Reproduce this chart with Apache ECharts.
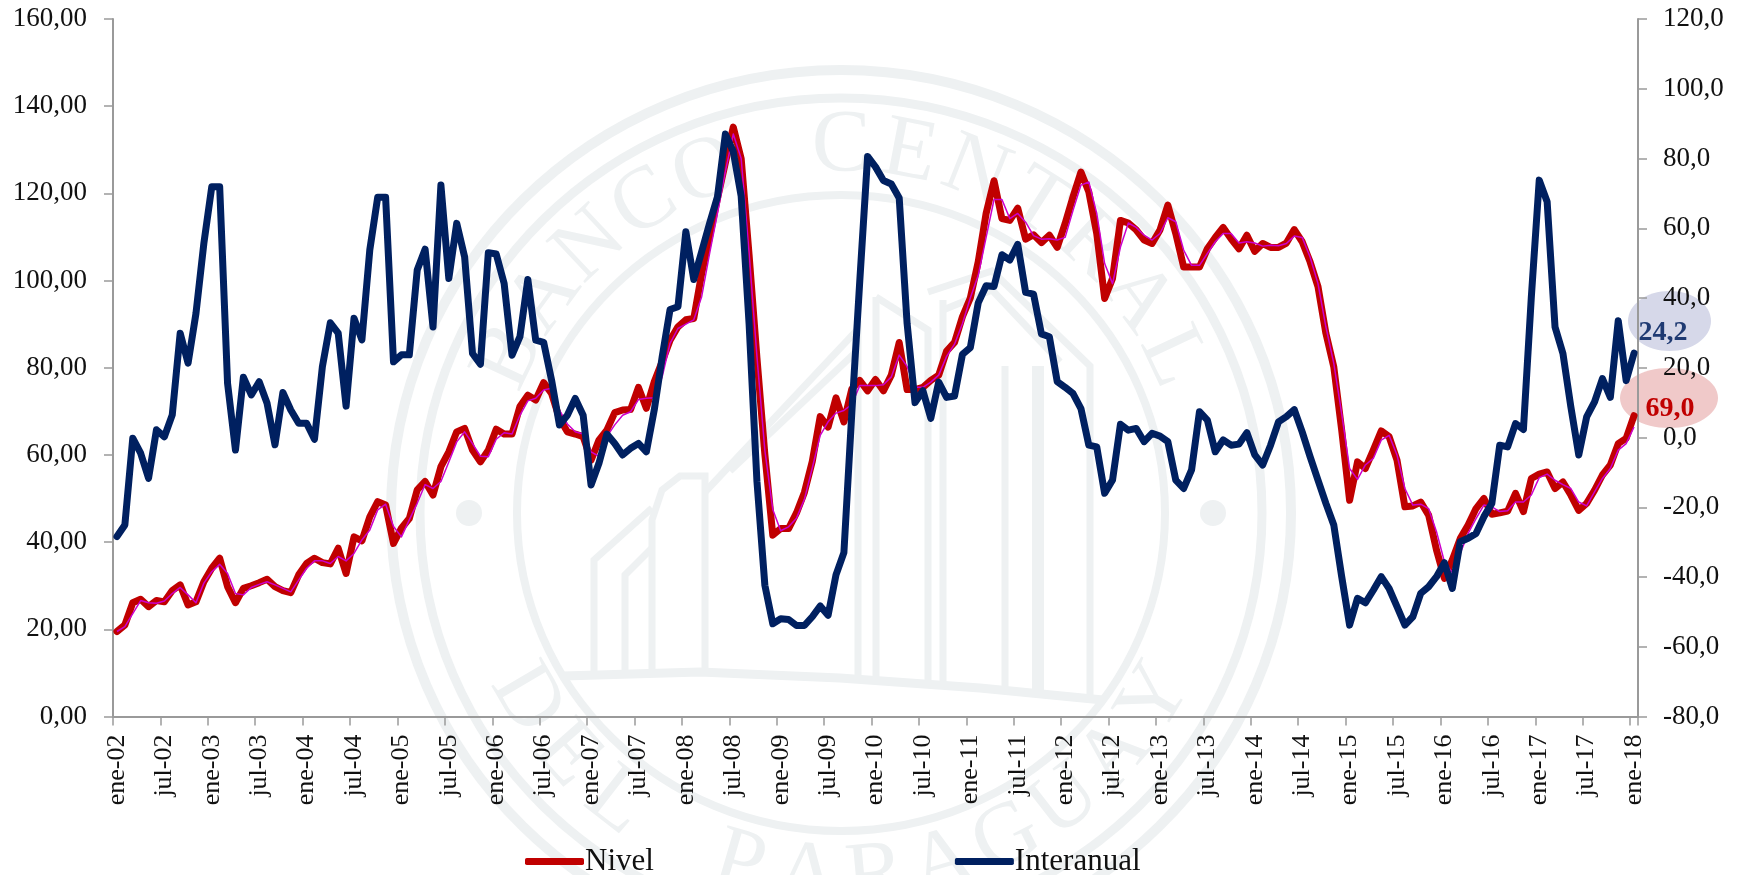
<!DOCTYPE html>
<html>
<head>
<meta charset="utf-8">
<style>html,body{margin:0;padding:0;background:#fff}#c{width:1745px;height:875px}</style>
<script src="https://cdn.jsdelivr.net/npm/echarts@6/dist/echarts.min.js"></script>
</head>
<body>
<div id="c"></div>
<script>
const monthNames = ['ene','feb','mar','abr','may','jun','jul','ago','sep','oct','nov','dic'];
const firstYear = 2002;
const monthCount = 193;

const nivel = [
19.5,21,26.1,26.9,25.2,26.6,26.3,28.9,30.2,25.6,26.3,30.9,34,36.3,29.8,26.1,29.4,30,30.7,31.5,29.8,28.9,28.4,32.5,35.1,36.3,35.3,35,38.6,32.8,41.2,40.3,45.8,49.3,48.5,39.7,43.2,45.4,52,53.9,
50.8,57.3,60.7,65.3,66.1,61.1,58.4,61.1,65.9,64.8,64.8,71.1,73.7,72.6,76.6,74.1,68.4,65.3,64.8,64.2,58.8,63.4,65.7,69.7,70.3,70.4,75.5,70.7,76.8,81.4,86.3,89.4,91,91.3,101.6,110,118.8,127,
135.2,128,105.9,82.2,60.1,41.6,43.1,43.1,46.7,51.4,58.5,68.8,66.4,73.1,67.6,75.1,77.1,74.7,77.3,74.7,78.3,85.8,75,75,75.5,77.1,78.3,83.8,85.8,91.7,96,104.3,115.4,122.9,114.2,113.8,116.6,109.5,110.5,108.7,
110.4,107.6,113.1,119.2,124.9,120.3,110.8,95.9,100.5,113.8,113.2,111.6,109.3,108.5,111.6,117.3,110.8,103.1,103.1,103.1,107.3,109.9,112.2,109.6,107.3,110.4,106.7,108.5,107.6,107.6,108.6,111.7,108.9,104.3,98.6,87.9,80.2,65.7,49.6,
58.4,56.9,61.1,65.5,64.2,58.8,48.1,48.3,49.2,46.2,38.2,31.7,35.9,40.8,43.9,47.7,50,46.4,46.7,47.1,51.2,47,54.6,55.6,56.1,52.3,53.8,50.8,47.3,48.9,51.9,55.4,57.7,62.6,63.8,69
];

const nivelFino = [
19.5,20.6,23.6,26.6,26.1,26,26.5,28.2,29.6,27.9,26.1,30.6,33.2,34.9,32.8,28.2,27.9,29.6,30.3,30.9,30.2,29.4,28.6,31.3,34,35.7,35.7,35.1,36.7,35.7,37.4,40.5,42.8,47.4,48.7,43.6,41.2,45.1,48.9,53.2,
52.3,53.9,58.4,63,65.3,62.6,59.7,59.6,63.6,65.1,64.8,69.1,72.4,73,74.9,75.3,70.3,67.1,65.3,64.8,60.7,59.7,64.2,66.9,69.1,69.9,72.7,73,73.1,77.9,85.6,89,90,91,96.3,106.2,115.4,
125,133.6,128,106.5,82.5,61,47.5,42.6,43.5,45.5,49.8,57,64.5,67.6,69.6,70.2,71.6,75.9,75.9,75.9,76.1,77.9,82.9,80.3,75.5,75.5,76.7,78.3,82.6,85.4,90.1,96,101.2,109.9,118.6,118.6,114.2,115.4,113.4,110.3,109.5,
109.6,109.3,109.9,116.1,121.9,122.6,115.4,103.9,99.3,107.7,113.2,112.2,110.4,109.3,110.8,114.4,113.5,107,103.5,103.5,106.2,108.9,110.8,110.8,108.6,108.9,108.6,107.9,108.1,108,108.5,110.2,109.9,105.4,99.3,89.4,81,69.5,
56.9,54.4,57.7,59.2,63.4,64.5,60,52.3,48.5,48.7,47.7,42.4,35.5,33,37.4,42,45.4,48.5,48.1,47,47.2,49.2,49.2,50.8,54.8,55.6,54.2,53.2,52.3,49.2,48.3,51.5,54.6,56.9,61.1,62.6,66.4
];

const interanual = [
-28.4,-25.1,-0.2,-4.5,-11.7,2.2,0.2,6.5,29.9,21.3,35.6,55.7,71.9,71.9,15.5,-3.6,17.3,12.2,16,9.8,-2.1,12.9,7.9,4.1,4.1,-0.5,20.3,32.9,29.9,9,34.2,28,53.8,68.9,68.9,21.7,23.7,23.7,48,54,
31.7,72.4,45.6,61.4,51.8,24.1,21,53,52.6,44.2,23.6,28.9,45.3,27.9,27.3,16.5,3.6,6.4,11.2,6.4,-13.6,-7.4,1,-1.7,-5,-3.1,-1.7,-4.1,7.9,23.1,36.7,37.5,59,45.3,53.3,61.4,
69,87,82,69.2,32.7,-12.7,-42.4,-53.4,-52,-52.2,-53.9,-53.9,-51.4,-48.3,-51,-39.4,-33,7,44.5,80.6,77.6,73.7,72.7,68.7,32.7,10,13.4,5.5,15.9,11.5,11.9,23.8,25.8,38.6,43.5,43.3,52.4,50.9,55.4,41.6,41.1,29.7,
28.9,16,14.4,12.6,8.3,-2.2,-2.7,-16,-12.2,3.8,2.1,2.6,-1.2,1.2,0.4,-1.2,-12.2,-14.6,-9.3,7.4,5,-4.1,-0.7,-2.2,-1.9,1.4,-5,-7.9,-2.2,4.5,6,8,1.6,-5.5,-12.2,-18.9,-25.1,-39.9,-53.8,
-46.1,-47.4,-43.8,-39.9,-43.3,-48.5,-53.8,-51.4,-44.7,-42.8,-39.9,-35.9,-43.3,-29.9,-28.9,-27.5,-22.7,-18.9,-2.2,-2.7,4,2.3,40.3,73.8,67.6,31.7,24.1,8.8,-5,5.9,10.2,16.9,11.5,33.5,16.3,24.2
];

const legendNames = ['Nivel','Interanual'];
const endLabels = ['24,2','69,0'];
const sealTop = 'BANCO CENTRAL';
const sealBottom = 'DEL PARAGUAY';

const categories = [];
for (let i = 0; i < monthCount; i++) {
  const y = firstYear + Math.floor(i / 12);
  categories.push(monthNames[i % 12] + '-' + String(y).slice(2));
}

const FONT = '"Liberation Serif", serif';
const GREY = '#9a9a9a';
const WM = '#eef1f2';
const cx = 841, cy = 513;

const graphics = [];
function ring(rx, ry, w) {
  graphics.push({type:'ellipse', silent:true, z:-5, shape:{cx, cy, rx, ry}, style:{fill:'transparent', stroke:WM, lineWidth:w}});
}
ring(450, 443, 10); ring(421, 415, 9); ring(324, 318, 8);
[[-372,0],[372,0]].forEach(d => graphics.push({type:'circle', silent:true, z:-5, shape:{cx:cx+d[0], cy:cy+d[1], r:13}, style:{fill:WM}}));
function poly(pts, w) {
  graphics.push({type:'polyline', silent:true, z:-5, shape:{points:pts}, style:{fill:'transparent', stroke:WM, lineWidth:w||7}});
}
poly([[563,676],[700,672],[840,678],[980,688],[1103,700]], 9);
poly([[594,671],[594,560],[652,508]]);
poly([[625,671],[625,575],[652,548]]);
poly([[652,671],[652,520],[662,490],[680,476],[705,476],[705,671]]);
poly([[705,492],[858,329],[858,676]]);
poly([[730,471],[858,350]]);
poly([[876,297],[876,678]]);
poly([[876,297],[928,330],[928,680]]);
poly([[943,300],[943,682]]);
poly([[928,292],[992,271],[1090,366],[1090,697]]);
poly([[943,310],[992,290],[1060,362]]);
poly([[1005,366],[1005,687]]);
poly([[1038,366],[1038,690]], 12);
const stepDeg = 10.8, letterR = 366;
[...sealTop].forEach((ch, i) => {
  const th = (-(sealTop.length - 1) / 2 + i) * stepDeg * Math.PI / 180;
  graphics.push({type:'text', silent:true, z:-5, x:cx + letterR * Math.sin(th), y:cy - letterR * Math.cos(th), rotation:-th,
    style:{text:ch, fill:WM, font:'88px ' + FONT, align:'center', verticalAlign:'middle'}});
});
[...sealBottom].forEach((ch, i) => {
  const ph = (-(sealBottom.length - 1) / 2 + i) * stepDeg * Math.PI / 180;
  graphics.push({type:'text', silent:true, z:-5, x:cx + letterR * Math.sin(ph), y:cy + letterR * Math.cos(ph), rotation:ph,
    style:{text:ch, fill:WM, font:'88px ' + FONT, align:'center', verticalAlign:'middle'}});
});
graphics.push({type:'ellipse', silent:true, z:-1, shape:{cx:1669.5, cy:321, rx:41.5, ry:30}, style:{fill:'#d6d8e9'}});
graphics.push({type:'ellipse', silent:true, z:-1, shape:{cx:1669, cy:398, rx:49, ry:30}, style:{fill:'#f0c9c9'}});
graphics.push({type:'text', silent:true, z:20, x:1663, y:333, style:{text:endLabels[0], fill:'#1f3a72', font:'bold 28px ' + FONT, align:'center', verticalAlign:'middle'}});
graphics.push({type:'text', silent:true, z:20, x:1670, y:409, style:{text:endLabels[1], fill:'#c00000', font:'bold 28px ' + FONT, align:'center', verticalAlign:'middle'}});

const axisText = {color:'#111', fontFamily:FONT, fontSize:27};
const option = {
  animation:false,
  backgroundColor:'#fff',
  grid:{left:113, right:107, top:19, bottom:158.5, containLabel:false},
  legend:{
    data:legendNames.map(n => ({name:n, icon:'roundRect'})),
    left:520, top:841, orient:'horizontal', itemWidth:59, itemHeight:7, itemGap:301,
    textStyle:{color:'#111', fontFamily:FONT, fontSize:31, padding:[0,0,0,-4]},
    selectedMode:false
  },
  xAxis:{
    type:'category', data:categories, boundaryGap:true,
    axisLine:{lineStyle:{color:GREY, width:2}},
    axisTick:{show:true, interval:5, length:9, lineStyle:{color:GREY, width:1.5}},
    axisLabel:{...axisText, rotate:90, interval:5, margin:18, fontSize:26}
  },
  yAxis:[
    {type:'value', min:0, max:160, interval:20, position:'left',
     axisLine:{show:true, lineStyle:{color:GREY, width:2}},
     axisTick:{show:true, length:9, lineStyle:{color:GREY, width:1.5}},
     splitLine:{show:false},
     axisLabel:{...axisText, margin:26, formatter:v => v.toFixed(2).replace('.',',')}},
    {type:'value', min:-80, max:120, interval:20, position:'right',
     axisLine:{show:true, lineStyle:{color:GREY, width:2}},
     axisTick:{show:true, length:9, lineStyle:{color:GREY, width:1.5}},
     splitLine:{show:false},
     axisLabel:{...axisText, margin:25, formatter:v => v.toFixed(1).replace('.',',')}}
  ],
  series:[
    {name:'Nivel', type:'line', data:nivel, yAxisIndex:0, symbol:'none', z:3,
     lineStyle:{color:'#c00000', width:7, cap:'round', join:'round'}, itemStyle:{color:'#c00000'}},
    {name:'Nivel fino', type:'line', data:nivelFino, yAxisIndex:0, symbol:'none', z:4,
     lineStyle:{color:'#cc00cc', width:1.5, join:'round'}, itemStyle:{color:'#cc00cc'}},
    {name:'Interanual', type:'line', data:interanual, yAxisIndex:1, symbol:'none', z:5,
     lineStyle:{color:'#002060', width:7, cap:'round', join:'round'}, itemStyle:{color:'#002060'}}
  ],
  graphic:{elements:graphics}
};
const chart = echarts.init(document.getElementById('c'), null, {renderer:'canvas'});
chart.setOption(option);
</script>
</body>
</html>
